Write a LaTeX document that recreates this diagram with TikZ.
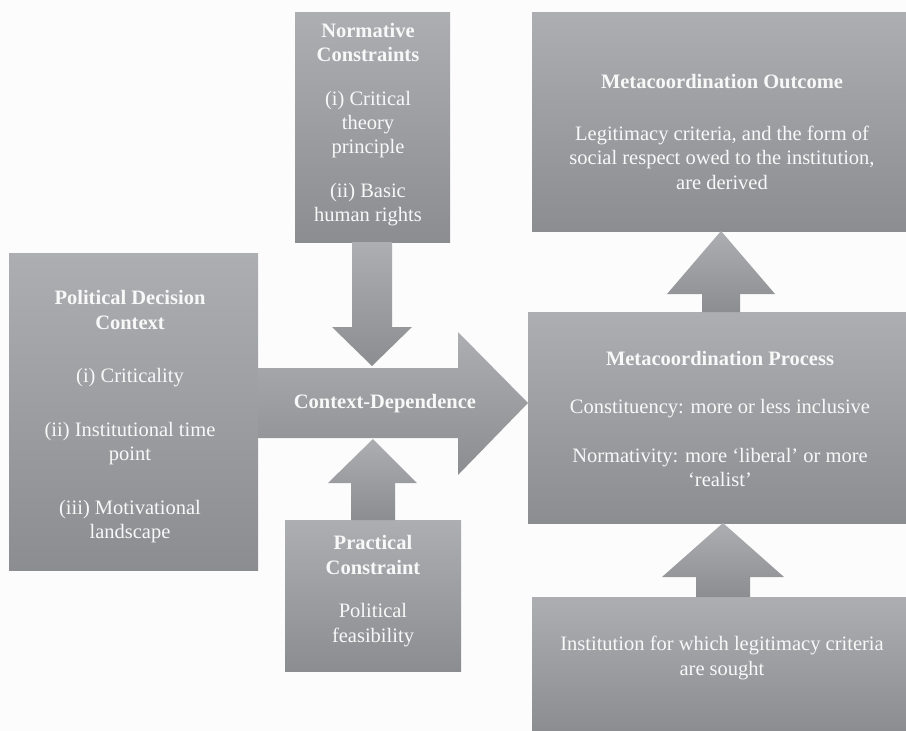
\documentclass[tikz,border=0pt]{standalone}
\usepackage{fontspec}
\setmainfont{Liberation Serif}
\usetikzlibrary{calc}
\definecolor{boxtop}{RGB}{173,174,177}
\definecolor{boxbot}{RGB}{140,141,144}
\definecolor{bgc}{RGB}{252,252,252}
\definecolor{txtc}{RGB}{248,248,248}
\begin{document}
\begin{tikzpicture}[x=1pt,y=-1pt,
  panel/.style={rectangle, inner sep=0pt, outer sep=0pt, anchor=north west,
    top color=boxtop, bottom color=boxbot, draw=none},
  txt/.style={text=txtc, align=center, inner sep=0pt,
    font=\fontsize{20.5}{24.5}\selectfont},
  blockarrow/.style={top color=boxtop, bottom color=boxbot, draw=none}]
\fill[bgc] (0,0) rectangle (906,731);
\useasboundingbox (0,0) rectangle (906,731);

% panels
\node[panel, minimum width=249pt, minimum height=317pt] (pdc) at (9,253) {};
\node[panel, minimum width=155pt, minimum height=230pt] (norm) at (295,12) {};
\node[panel, minimum width=176pt, minimum height=151pt] (prac) at (285,520) {};
\node[panel, minimum width=374pt, minimum height=219pt] (outc) at (532,12) {};
\node[panel, minimum width=378pt, minimum height=211pt] (proc) at (528,312) {};
\node[panel, minimum width=374pt, minimum height=134pt] (inst) at (532,597) {};

% block arrows
\shade[blockarrow] (pdc.east |- 0,368) -- (458,368) -- (458,332)
  -- (proc.west |- 0,403) -- (458,475) -- (458,438) -- (pdc.east |- 0,438) -- cycle;
\shade[blockarrow] (352,0 |- norm.south) -- (352,327) -- (332,327) -- (372,366)
  -- (412,327) -- (392,327) -- (392,0 |- norm.south) -- cycle;
\shade[blockarrow] (351,0 |- prac.north) -- (351,483) -- (328,483) -- (373,439)
  -- (417,483) -- (395,483) -- (395,0 |- prac.north) -- cycle;
\shade[blockarrow] (702,0 |- proc.north) -- (702,294) -- (667,294) -- (721,0 |- outc.south)
  -- (775,294) -- (740,294) -- (740,0 |- proc.north) -- cycle;
\shade[blockarrow] (696,0 |- inst.north) -- (696,577) -- (662,577) -- (723,0 |- proc.south)
  -- (784,577) -- (750,577) -- (750,0 |- inst.north) -- cycle;

% texts
\node[txt] (pdct) at (130,417) {\textbf{Political Decision}\\\textbf{Context}\\[29pt](i) Criticality\\[29pt](ii) Institutional time\\point\\[29pt](iii) Motivational\\landscape};
\node[txt, font=\fontsize{20.5}{24}\selectfont] (normt) at (368,125) {\textbf{Normative}\\\textbf{Constraints}\\[20pt](i) Critical\\theory\\principle\\[20pt](ii) Basic\\human rights};
\node[txt] (outt) at (722,132) {\textbf{Metacoordination Outcome}\\[27pt]Legitimacy criteria, and the form of\\social respect owed to the institution,\\are derived};
\node[txt] (proct) at (720,419) {\textbf{Metacoordination Process}\\[24pt]Constituency: more or less inclusive\\[24pt]Normativity: more ‘liberal’ or more\\‘realist’};
\node[txt] (pract) at (373,591) {\textbf{Practical}\\\textbf{Constraint}\\[19pt]Political\\feasibility};
\node[txt] (instt) at (722,658) {Institution for which legitimacy criteria\\are sought};
\node[txt] (cdt) at (385,404) {\textbf{Context-Dependence}};
\end{tikzpicture}
\end{document}
